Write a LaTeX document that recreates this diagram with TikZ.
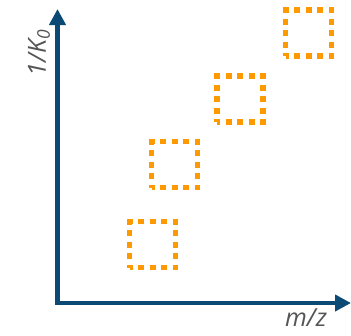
\documentclass[tikz,border=0pt]{standalone}
\usepackage{fontspec}
\setmainfont{Open Sans}
\usetikzlibrary{arrows.meta}
\definecolor{axisblue}{HTML}{0B4A74}
\definecolor{boxorange}{HTML}{FF9900}
\definecolor{labelgray}{HTML}{555555}
\begin{document}
\begin{tikzpicture}[x=1pt,y=-1pt,
  axis/.style={draw=axisblue,line width=4.5pt,-{Triangle[length=16pt,width=16pt]}},
  peak/.style={draw=boxorange,line width=5.5pt,minimum width=46pt,minimum height=46pt,inner sep=0pt,
    dash pattern=on 6pt off 5.5pt,dash phase=3pt},
  lbl/.style={text=labelgray,font=\fontsize{25}{30}\selectfont\itshape,inner sep=0pt}]
\useasboundingbox (0,0) rectangle (351,335);
\coordinate (origin) at (57.5,303);
\coordinate (ytip) at (57.5,9);
\coordinate (xtip) at (351,303);
\draw[axis] ([yshift=2.25pt]origin) -- (ytip);
\draw[axis] ([xshift=-2.25pt]origin) -- (xtip);
\node[lbl,rotate=90] (ylab) at (39,53) {1/K\textsubscript{0}};
\node[lbl] (xlab) at (306,318) {m/z};
\node[peak] (p1) at (152.5,244.5) {};
\node[peak] (p2) at (174.5,164.5) {};
\node[peak] (p3) at (240,99) {};
\node[peak] (p4) at (308.5,33) {};
\end{tikzpicture}
\end{document}
